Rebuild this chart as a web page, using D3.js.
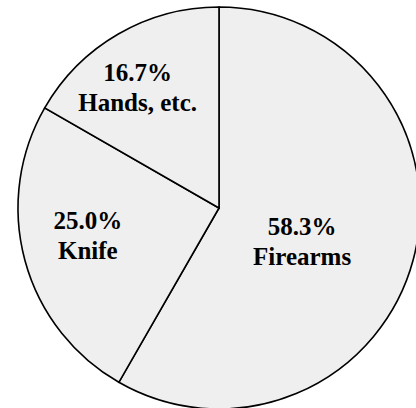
<!DOCTYPE html>
<html>
<head>
<meta charset="utf-8">
<script src="https://cdn.jsdelivr.net/npm/d3@7"></script>
</head>
<body style="margin:0">
<svg width="416" height="408" style="display:block"></svg>
<script>
var categories = ["Firearms", "Knife", "Hands, etc."];
var shares = [58.3, 25.0, 16.7];

// label placement: fraction of radius and angle (deg, clockwise from top)
var labelRadius = [0.446, 0.667, 0.724];
var labelAngle = [112, 258, 326];

var svg = d3.select("svg"),
    width = +svg.attr("width"),
    height = +svg.attr("height");

var cx = 219, cy = 208, radius = 201;

var pie = d3.pie()
    .sort(null)
    .value(function (d) { return d; });

var arc = d3.arc()
    .innerRadius(0)
    .outerRadius(radius);

var g = svg.append("g")
    .attr("transform", "translate(" + cx + "," + cy + ")");

var arcs = pie(shares);

g.selectAll("path")
    .data(arcs)
    .enter().append("path")
    .attr("d", arc)
    .attr("fill", "#efefef")
    .attr("stroke", "#000")
    .attr("stroke-width", 1.6);

function labelPos(i) {
    var a = labelAngle[i] * Math.PI / 180,
        r = labelRadius[i] * radius;
    return [cx + Math.sin(a) * r, cy - Math.cos(a) * r];
}

function addLine(dy, fn) {
    svg.selectAll(null)
        .data(arcs)
        .enter().append("text")
        .attr("x", function (d, i) { return labelPos(i)[0]; })
        .attr("y", function (d, i) { return labelPos(i)[1] + dy; })
        .attr("text-anchor", "middle")
        .style("font-family", "'Liberation Serif'")
        .style("font-weight", "bold")
        .style("font-size", "25px")
        .text(fn);
}

addLine(-6.5, function (d) { return d.data.toFixed(1) + "%"; });
addLine(23.5, function (d, i) { return categories[i]; });
</script>
</body>
</html>
